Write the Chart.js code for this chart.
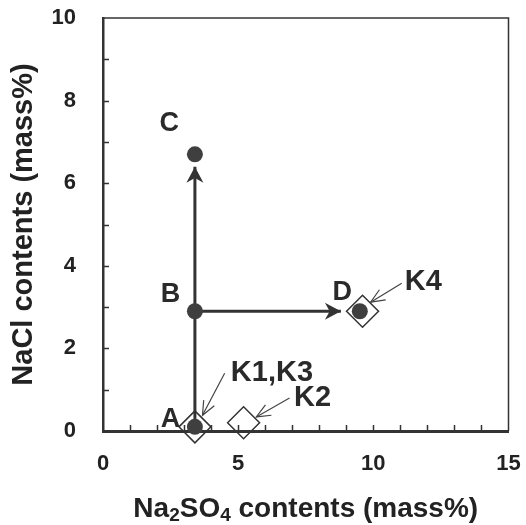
<!DOCTYPE html>
<html>
<head>
<meta charset="utf-8">
<script src="https://cdn.jsdelivr.net/npm/chart.js@4.4.1/dist/chart.umd.min.js"></script>
<style>
html, body { margin: 0; padding: 0; background: #fff; }
#wrap { width: 526px; height: 525px; }
</style>
</head>
<body>
<div id="wrap"><canvas id="chart"></canvas></div>
<script>
// sample points (Na2SO4 %, NaCl %)
const pointNames = ['A', 'B', 'C', 'D'];
const pointX = [3.4, 3.4, 3.4, 9.5];
const pointY = [0.1, 2.9, 6.7, 2.9];

// K samples
const kNames = ['K1,K3', 'K2', 'K4'];
const kX = [3.4, 5.2, 9.6];
const kY = [0.1, 0.2, 2.9];

// process paths A -> C and B -> D (end = arrow tip)
const pathAC_x = [3.4, 3.4];
const pathAC_y = [0.1, 6.4];
const pathBD_x = [3.4, 8.8];
const pathBD_y = [2.9, 2.9];

// axes
const xTicks = [0, 5, 10, 15];
const yTicks = [0, 2, 4, 6, 8, 10];

// label placement in data units: [text, x, y]
const letterLabels = [['A', 2.5, 0.27], ['B', 2.5, 3.3], ['C', 2.45, 7.45], ['D', 8.85, 3.35]];
const kLabels = [['K1,K3', 6.25, 1.4], ['K2', 7.75, 0.8], ['K4', 11.85, 3.6]];
// thin pointer arrows: [fromX, fromY, tipX, tipY]
const pointers = [[4.5, 1.4, 3.68, 0.38], [6.9, 0.8, 5.67, 0.34], [11.05, 3.58, 9.9, 3.12]];

const ink = '#333333';
const font = '"Liberation Sans", Arial, sans-serif';
const zip = (xs, ys) => xs.map((x, i) => ({ x, y: ys[i] }));

function arrowHead(ctx, x0, y0, x1, y1, len, half, filled) {
    const a = Math.atan2(y1 - y0, x1 - x0);
    const bx = x1 - len * Math.cos(a), by = y1 - len * Math.sin(a);
    const nx = -Math.sin(a) * half, ny = Math.cos(a) * half;
    ctx.beginPath();
    if (filled) {
        const mx = x1 - len * 0.7 * Math.cos(a), my = y1 - len * 0.7 * Math.sin(a);
        ctx.moveTo(x1, y1);
        ctx.lineTo(bx + nx, by + ny);
        ctx.lineTo(mx, my);
        ctx.lineTo(bx - nx, by - ny);
        ctx.closePath();
        ctx.fill();
    } else {
        ctx.moveTo(bx + nx, by + ny);
        ctx.lineTo(x1, y1);
        ctx.lineTo(bx - nx, by - ny);
        ctx.stroke();
    }
}

const decorPlugin = {
    id: 'decor',
    afterDatasetsDraw(chart) {
        const ctx = chart.ctx, xs = chart.scales.x, ys = chart.scales.y;
        const px = v => xs.getPixelForValue(v), py = v => ys.getPixelForValue(v);
        ctx.save();
        ctx.fillStyle = ink;
        ctx.strokeStyle = ink;
        // heads on the thick process arrows
        [[pathAC_x, pathAC_y], [pathBD_x, pathBD_y]].forEach(([ax, ay]) => {
            arrowHead(ctx, px(ax[0]), py(ay[0]), px(ax[1]), py(ay[1]), 16, 8.5, true);
        });
        // thin pointers
        ctx.lineWidth = 1.2;
        ctx.strokeStyle = '#444';
        pointers.forEach(([fx, fy, tx, ty]) => {
            ctx.beginPath();
            ctx.moveTo(px(fx), py(fy));
            ctx.lineTo(px(tx), py(ty));
            ctx.stroke();
            arrowHead(ctx, px(fx), py(fy), px(tx), py(ty), 14, 6, false);
        });
        // text labels
        ctx.fillStyle = '#2a2a2a';
        ctx.textAlign = 'center';
        ctx.textBaseline = 'middle';
        ctx.font = 'bold 27px ' + font;
        letterLabels.forEach(([t, x, y]) => ctx.fillText(t, px(x), py(y)));
        ctx.font = 'bold 29px ' + font;
        kLabels.forEach(([t, x, y]) => ctx.fillText(t, px(x), py(y)));
        ctx.restore();
    },
    afterDraw(chart) {
        const ctx = chart.ctx, a = chart.chartArea, xs = chart.scales.x, ys = chart.scales.y;
        ctx.save();
        ctx.strokeStyle = ink;
        // inner minor ticks
        ctx.lineWidth = 1.5;
        ctx.beginPath();
        for (let v = xs.min + 1; v < xs.max; v++) {
            const x = Math.round(xs.getPixelForValue(v)) + 0.5;
            ctx.moveTo(x, a.bottom);
            ctx.lineTo(x, a.bottom - 6);
        }
        for (let v = ys.min + 1; v < ys.max; v++) {
            const y = Math.round(ys.getPixelForValue(v)) + 0.5;
            ctx.moveTo(a.left, y);
            ctx.lineTo(a.left + 6, y);
        }
        ctx.stroke();
        // top / right frame
        ctx.lineWidth = 1.5;
        ctx.beginPath();
        ctx.moveTo(a.left, a.top);
        ctx.lineTo(a.right, a.top);
        ctx.lineTo(a.right, a.bottom);
        ctx.stroke();
        // axis titles
        ctx.fillStyle = '#222';
        ctx.textBaseline = 'middle';
        const big = 'bold 28px ' + font;
        const small = 'bold 19px ' + font;
        const parts = [['Na', big, 0], ['2', small, 7], ['SO', big, 0], ['4', small, 7], [' contents (mass%)', big, 0]];
        let total = 0;
        parts.forEach(([t, f]) => { ctx.font = f; total += ctx.measureText(t).width; });
        let x = (a.left + a.right) / 2 - total / 2;
        ctx.textAlign = 'left';
        parts.forEach(([t, f, dy]) => {
            ctx.font = f;
            ctx.fillText(t, x, 509 + dy);
            x += ctx.measureText(t).width;
        });
        ctx.translate(24, (a.top + a.bottom) / 2);
        ctx.rotate(-Math.PI / 2);
        ctx.textAlign = 'center';
        ctx.font = 'bold 29px ' + font;
        ctx.fillText('NaCl contents (mass%)', 0, 0);
        ctx.restore();
    }
};

new Chart(document.getElementById('chart'), {
    type: 'scatter',
    data: {
        datasets: [
            {
                label: 'points', data: zip(pointX, pointY),
                pointStyle: 'circle', pointRadius: 8, pointHoverRadius: 8,
                backgroundColor: '#3f3f3f', borderColor: '#3f3f3f', borderWidth: 0, clip: false
            },
            {
                label: 'A-C', data: zip(pathAC_x, pathAC_y), showLine: true,
                borderColor: ink, borderWidth: 3, pointRadius: 0, clip: false
            },
            {
                label: 'B-D', data: zip(pathBD_x, pathBD_y), showLine: true,
                borderColor: ink, borderWidth: 3, pointRadius: 0, clip: false
            },
            {
                label: 'K', data: zip(kX, kY),
                pointStyle: 'rectRot', pointRadius: 16, pointHoverRadius: 16,
                backgroundColor: 'rgba(0,0,0,0)', borderColor: '#333', borderWidth: 1.5, clip: false
            }
        ]
    },
    options: {
        responsive: true,
        maintainAspectRatio: false,
        animation: false,
        events: [],
        layout: { padding: { top: 18, right: 8, left: 0, bottom: 0 } },
        plugins: { legend: { display: false }, tooltip: { enabled: false } },
        scales: {
            x: {
                type: 'linear', min: 0, max: 15,
                grid: { display: false, drawTicks: false },
                border: { display: true, color: ink, width: 3 },
                afterBuildTicks: s => { s.ticks = xTicks.map(v => ({ value: v })); },
                afterFit: s => { s.height = 94; s.paddingLeft = 0; s.paddingRight = 0; },
                ticks: { padding: 20, color: '#222', font: { family: font, size: 22, weight: 'bold' } }
            },
            y: {
                type: 'linear', min: 0, max: 10,
                grid: { display: false, drawTicks: false },
                border: { display: true, color: ink, width: 2.5 },
                afterBuildTicks: s => { s.ticks = yTicks.map(v => ({ value: v })); },
                afterFit: s => { s.width = 103; s.paddingTop = 0; s.paddingBottom = 0; },
                ticks: { padding: 27, color: '#222', font: { family: font, size: 22, weight: 'bold' } }
            }
        }
    },
    plugins: [decorPlugin]
});
</script>
</body>
</html>
